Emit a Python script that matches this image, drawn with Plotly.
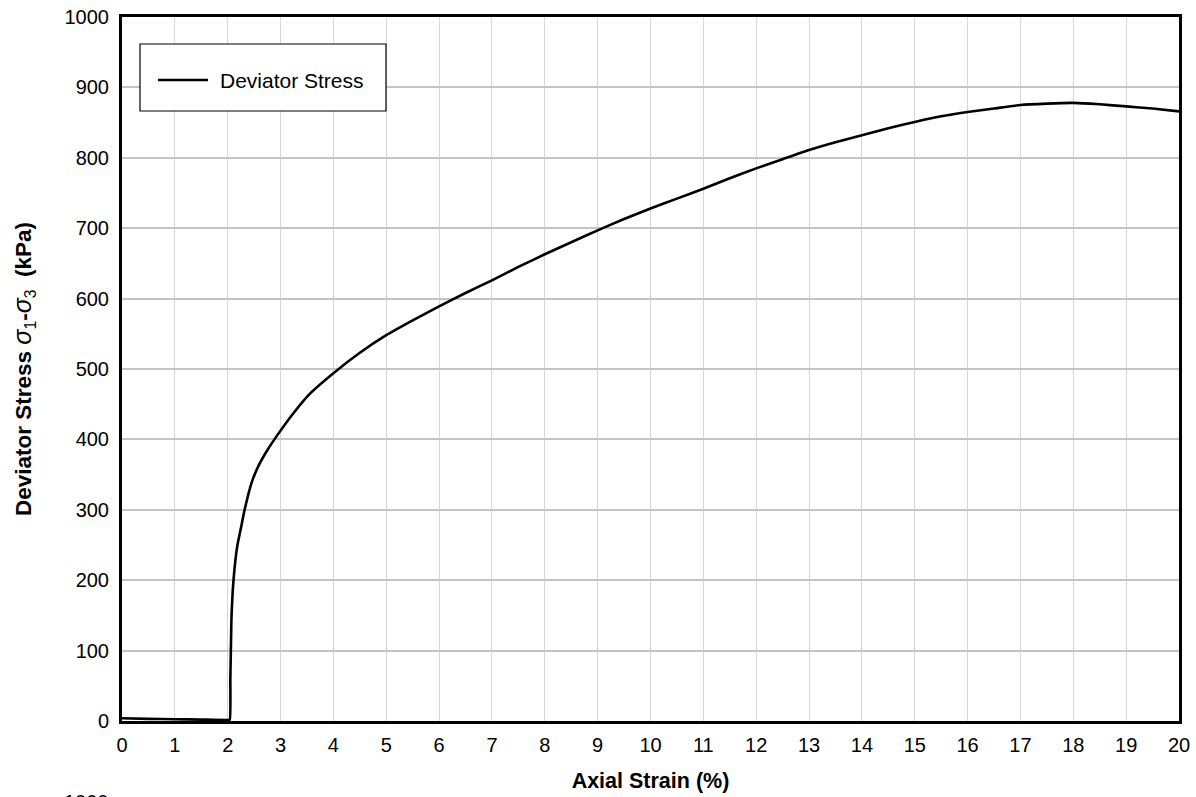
import plotly.graph_objects as go

# Triaxial test: deviator stress vs axial strain
axial_strain = [0.0, 0.5, 1.0, 1.5, 2.0, 2.04, 2.05, 2.06, 2.07, 2.11, 2.18, 2.25,
                2.32, 2.45, 2.58, 2.77, 2.93, 3.21, 3.53, 4.0, 4.5, 5.0, 5.5, 6.0,
                6.5, 7.0, 7.5, 8.0, 8.5, 9.0, 9.5, 10.0, 10.5, 11.0, 11.5, 12.0,
                12.5, 13.0, 13.5, 14.0, 14.5, 15.0, 15.5, 16.0, 16.5, 17.0, 17.5,
                18.0, 18.5, 19.0, 19.5, 20.0]
deviator_stress = [4, 3, 2.5, 2, 1.5, 2, 60, 100, 143, 200, 248, 274,
                   300, 338, 362, 387, 405, 434, 463, 494, 523, 548, 569, 589,
                   608, 626, 645, 663, 680, 697, 713, 728, 742, 756, 771, 785,
                   798, 811, 822, 832, 842, 851, 859, 865, 870, 875, 877,
                   878, 876, 873, 870, 866]

x_ticks = list(range(0, 21))
y_ticks = list(range(0, 1001, 100))

FONT = "Liberation Sans, Arial, sans-serif"

fig = go.Figure()
fig.add_trace(go.Scatter(
    x=axial_strain, y=deviator_stress, mode="lines", name="Deviator Stress",
    line=dict(color="black", width=2.6, shape="spline", smoothing=0.4), showlegend=False,
))

# Legend box drawn as shapes + text
fig.add_shape(type="rect", xref="paper", yref="paper",
              x0=(140 - 122) / 1057, x1=(386 - 122) / 1057,
              y0=(721 - 111) / 704, y1=(721 - 44) / 704,
              line=dict(color="black", width=1.2), fillcolor="white", layer="above")
fig.add_shape(type="line", xref="paper", yref="paper",
              x0=(158 - 122) / 1057, x1=(208 - 122) / 1057,
              y0=(721 - 80) / 704, y1=(721 - 80) / 704,
              line=dict(color="black", width=2.6), layer="above")
fig.add_annotation(xref="paper", yref="paper", x=(218 - 122) / 1057, y=(721 - 80) / 704,
                   xanchor="left", yanchor="middle", text="Deviator Stress",
                   showarrow=False, font=dict(family=FONT, size=21, color="black"))

# Top of the next chart's axis label at the page edge
fig.add_annotation(xref="paper", yref="paper", x=(111 - 122) / 1057, y=(721 - 789) / 704,
                   xanchor="right", yanchor="top", text="1000",
                   showarrow=False, font=dict(family=FONT, size=20, color="black"))

fig.update_xaxes(
    range=[0, 20], tickvals=x_ticks, ticks="", showline=True, linecolor="black",
    linewidth=3, mirror=True, showgrid=True, gridcolor="#d6d6d6", gridwidth=1.2,
    zeroline=False, ticklabelstandoff=4,
    tickfont=dict(family=FONT, size=20, color="black"),
    title=dict(text="<b>Axial Strain (%)</b>", font=dict(family=FONT, size=21.5, color="black"),
               standoff=18),
)
fig.update_yaxes(
    range=[0, 1000], tickvals=y_ticks, ticks="", showline=True, linecolor="black",
    linewidth=3, mirror=True, showgrid=True, gridcolor="#c4c4c4", gridwidth=1.6,
    zeroline=False, ticklabelstandoff=6,
    tickfont=dict(family=FONT, size=20, color="black"),
    title=dict(text="<b>Deviator Stress </b><span style='font-size:25px'><i>σ</i></span>"
                    "<sub>1</sub><b>-</b><span style='font-size:25px'><i>σ</i></span>"
                    "<sub>3</sub><b>&nbsp; (kPa)</b>",
               font=dict(family=FONT, size=22.5, color="black"), standoff=27),
)

fig.update_layout(
    width=1196, height=797,
    margin=dict(l=122, r=17, t=17, b=76, autoexpand=False),
    plot_bgcolor="white", paper_bgcolor="white",
    font=dict(family=FONT, size=20, color="black"),
)

fig.write_html("out.html")
